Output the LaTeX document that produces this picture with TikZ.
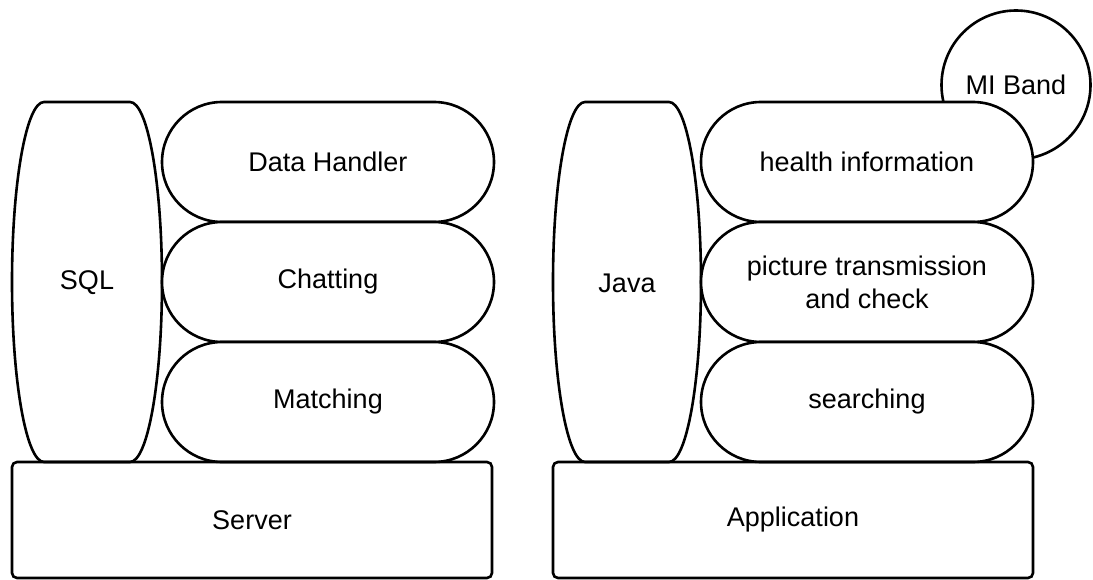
\documentclass[tikz,border=0pt]{standalone}
\usepackage{fontspec}
\setmainfont{Liberation Sans}
\usetikzlibrary{shapes,shapes.misc,positioning}

\begin{document}
\begin{tikzpicture}[x=1pt,y=-1pt,line width=2.6pt,
  every node/.append style={font=\fontsize{27}{33}\selectfont},
  layer/.style={rounded rectangle,draw,fill=white,minimum width=332pt,minimum height=120pt,inner sep=0pt,outer sep=0pt},
  base/.style={rectangle,rounded corners=5pt,draw,minimum width=480pt,minimum height=116pt,outer sep=0pt}]
  \tikzstyle{word} = [align=center,text=black]
  \useasboundingbox (0,0) rectangle (1093,580);
  % band sits behind the top layer
  \node (band) [circle,draw,minimum size=149pt,inner sep=0pt] at (1016,85) {MI Band};
  % server side
  \draw (44,102) -- (130,102) arc[start angle=90,end angle=-90,x radius=32pt,y radius=180pt]
    -- (44,462) arc[start angle=270,end angle=90,x radius=32pt,y radius=180pt] -- cycle;
  \node (sql) [word] at (87,283) {SQL};
  \node (data) [layer] at (328,162) {Data Handler};
  \node (chat) [layer,below=0pt of data] {Chatting};
  \node (match) [layer,below=0pt of chat] {Matching};
  \node (server) [base] at (252,520) {Server};
  % application side
  \draw (585,102) -- (669,102) arc[start angle=90,end angle=-90,x radius=32pt,y radius=180pt]
    -- (585,462) arc[start angle=270,end angle=90,x radius=32pt,y radius=180pt] -- cycle;
  \node (java) [word] at (627,283) {Java};
  \node (health) [layer] at (867,162) {health information};
  \node (pic) [layer,below=0pt of health,word] {picture transmission\\and check};
  \node (search) [layer,below=0pt of pic] {searching};
  \node (app) [base] at (793,520) {Application};
\end{tikzpicture}
\end{document}
